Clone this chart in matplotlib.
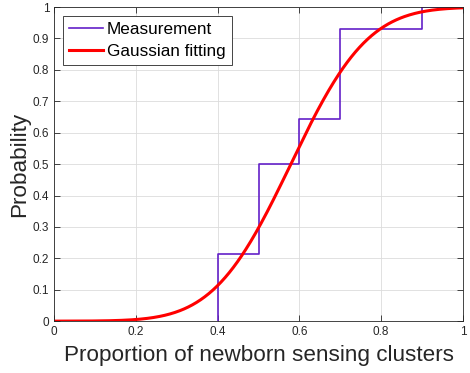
import math
import numpy as np
import matplotlib
matplotlib.use("Agg")
import matplotlib.pyplot as plt

plt.rcParams['font.family'] = ['Liberation Sans', 'DejaVu Sans']

# empirical CDF of the measurement (step points)
meas_x = [0.4, 0.4, 0.5, 0.6, 0.7, 0.9, 1.0]
meas_y = [0.0, 0.214, 0.5, 0.643, 0.929, 1.0, 1.0]

# gaussian fit parameters
mu = 0.579
sigma = 0.148

xs = np.linspace(0, 1, 400)
fit_y = [0.5 * (1 + math.erf((v - mu) / (sigma * math.sqrt(2)))) for v in xs]

fig = plt.figure(figsize=(4.7, 3.73), dpi=100)
ax = fig.add_axes([0.115, 0.139, 0.870, 0.842])

ax.step(meas_x, meas_y, where='post', color='#6420c8', lw=1.2, label='Measurement')
ax.plot(xs, fit_y, color='#ff0000', lw=2.2, label='Gaussian fitting')

ax.set_xlim(0, 1)
ax.set_ylim(0, 1)
ax.set_xticks(np.arange(0, 1.01, 0.2))
ax.set_xticklabels(['0', '0.2', '0.4', '0.6', '0.8', '1'])
ax.set_yticks(np.arange(0, 1.01, 0.1))
ax.set_yticklabels(['0', '0.1', '0.2', '0.3', '0.4', '0.5', '0.6', '0.7', '0.8', '0.9', '1'])
ax.tick_params(direction='in', top=True, right=True, labelsize=8.5, colors='#262626', length=4, width=0.6)
ax.grid(True, color='#dcdcdc', lw=0.6)
for s in ax.spines.values():
    s.set_color('#262626')
    s.set_linewidth(0.6)

ax.set_xlabel('Proportion of newborn sensing clusters', fontsize=16.2, color='#262626', labelpad=5)
ax.set_ylabel('Probability', fontsize=16.2, color='#262626', labelpad=2)

leg = ax.legend(loc='upper left', fontsize=12.3, fancybox=False, framealpha=1,
                edgecolor='#262626', borderaxespad=0.5, handlelength=2.0,
                handletextpad=0.25, borderpad=0.35, labelspacing=0.45)
leg.get_frame().set_linewidth(0.6)

fig.savefig('out.png', dpi=100)
